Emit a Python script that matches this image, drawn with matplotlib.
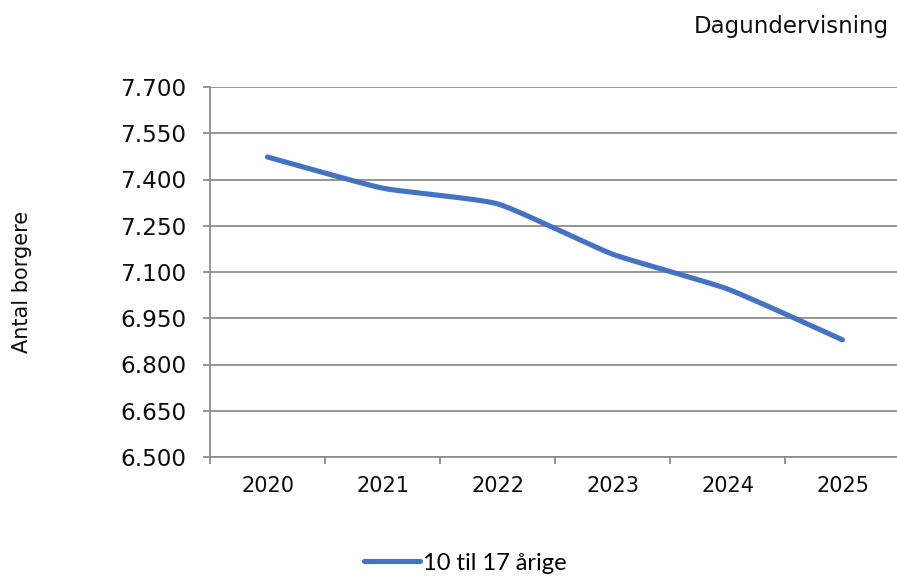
import matplotlib
matplotlib.use("Agg")
import matplotlib.pyplot as plt
import numpy as np
from matplotlib.lines import Line2D

years = ["2020", "2021", "2022", "2023", "2024", "2025"]
values = [7473, 7372, 7321, 7158, 7045, 6880]
yticks = [6500, 6650, 6800, 6950, 7100, 7250, 7400, 7550, 7700]
ytick_labels = ["6.500", "6.650", "6.800", "6.950", "7.100", "7.250", "7.400", "7.550", "7.700"]
series_name = "10 til 17 årige"
title = "Dagundervisning"
ylabel = "Antal borgere"

W, H = 897, 578
fig = plt.figure(figsize=(W / 100, H / 100), dpi=100)
ax = fig.add_axes([210 / W, (H - 457) / H, 690 / W, 370 / H])

# Lightly smoothed line through data points
x = np.arange(len(values), dtype=float)
y = np.array(values, dtype=float)
xs, ys = [], []
t = np.linspace(0, 1, 40)
n = len(x)
k = 1 / 12
for i in range(n - 1):
    p0 = np.array([x[i], y[i]])
    p3 = np.array([x[i + 1], y[i + 1]])
    pm = np.array([x[i - 1], y[i - 1]]) if i > 0 else p0
    pp = np.array([x[i + 2], y[i + 2]]) if i + 2 < n else p3
    p1 = p0 + (p3 - pm) * k
    p2 = p3 - (pp - p0) * k
    b = ((1 - t) ** 3)[:, None] * p0 + (3 * (1 - t) ** 2 * t)[:, None] * p1 + \
        (3 * (1 - t) * t ** 2)[:, None] * p2 + (t ** 3)[:, None] * p3
    xs.extend(b[:, 0]); ys.extend(b[:, 1])

ax.plot(xs, ys, color="#4472C4", lw=3.7, solid_capstyle="round", zorder=3)

ax.set_xlim(-0.5, len(years) - 0.5)
ax.set_ylim(6500, 7700)
ax.set_yticks(yticks)
ax.set_yticklabels(ytick_labels)
ax.set_xticks(x)
ax.set_xticklabels(years)
ax.set_xticks(np.arange(-0.5, len(years) + 0.5, 1), minor=True)

grid_c = "#8C8C8C"
ax.yaxis.grid(True, color=grid_c, lw=1.3)
ax.set_axisbelow(True)
for s in ["top", "right"]:
    ax.spines[s].set_visible(False)
ax.spines["left"].set_color(grid_c)
ax.spines["left"].set_linewidth(1.3)
ax.spines["bottom"].set_color(grid_c)
ax.spines["bottom"].set_linewidth(1.3)

ax.tick_params(axis="y", length=5, width=1.3, color=grid_c, pad=12, labelsize=16.7, labelcolor="#0d0d0d")
ax.tick_params(axis="x", which="major", length=0, pad=14, labelsize=15, labelcolor="#0d0d0d")
ax.tick_params(axis="x", which="minor", length=5, width=1.3, color=grid_c)

fig.text(889 / W, 1 - 27 / H, title, ha="right", va="center", fontsize=16.5, color="#0d0d0d")
fig.text(22 / W, 1 - 282 / H, ylabel, ha="center", va="center", rotation=90, fontsize=15, color="#0d0d0d")

handle = Line2D([0], [0], color="#4472C4", lw=3.7, solid_capstyle="round")
fig.legend([handle], [series_name], loc="center", bbox_to_anchor=(465 / W, 1 - 563 / H),
           frameon=False, prop={"family": "Lato", "size": 17}, handlelength=2.4,
           handletextpad=0.1, borderaxespad=0)

fig.savefig("out.png", dpi=100)
